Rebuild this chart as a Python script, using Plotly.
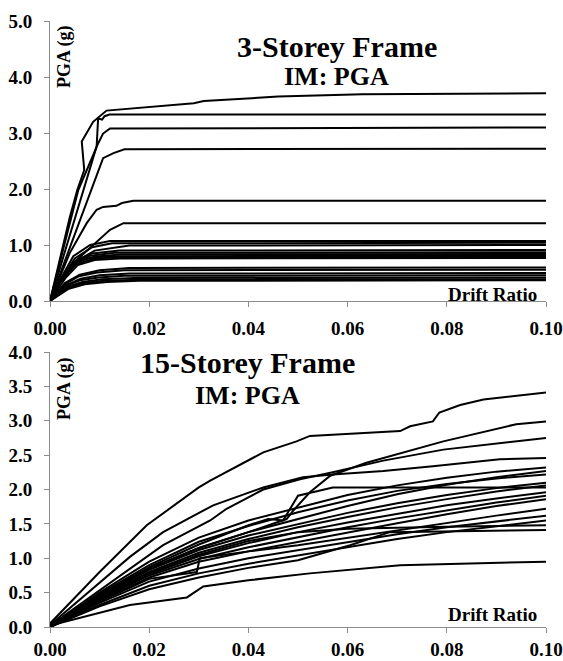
import plotly.graph_objects as go

# ---------------- 3-storey frame (top) ----------------
top_x = [
    [0, 0.004, 0.0055, 0.0069, 0.0064, 0.0087, 0.0114, 0.02, 0.029, 0.031, 0.046, 0.063, 0.1],
    [0, 0.0057, 0.0094, 0.0097, 0.0105, 0.011, 0.012, 0.1],
    [0, 0.0094, 0.0107, 0.0121, 0.1],
    [0, 0.0107, 0.0128, 0.015, 0.1],
    [0, 0.004, 0.0074, 0.0094, 0.0107, 0.0134, 0.0145, 0.0168, 0.1],
    [0, 0.004, 0.0081, 0.0121, 0.0148, 0.1],
    [0, 0.0025, 0.0047, 0.0081, 0.0121, 0.1],
    [0, 0.0028, 0.005, 0.0085, 0.0125, 0.1],
    [0, 0.003, 0.0055, 0.009, 0.016, 0.1],
    [0, 0.003, 0.0052, 0.0085, 0.014, 0.1],
    [0, 0.0027, 0.005, 0.0082, 0.013, 0.1],
    [0, 0.003, 0.0054, 0.009, 0.014, 0.1],
    [0, 0.0028, 0.0048, 0.008, 0.012, 0.1],
    [0, 0.003, 0.0053, 0.0088, 0.013, 0.1],
    [0, 0.0032, 0.0056, 0.009, 0.014, 0.1],
    [0, 0.003, 0.006, 0.01, 0.016, 0.1],
    [0, 0.003, 0.0058, 0.0095, 0.015, 0.1],
    [0, 0.0032, 0.0062, 0.01, 0.016, 0.1],
    [0, 0.003, 0.006, 0.0098, 0.015, 0.1],
    [0, 0.0035, 0.0065, 0.0105, 0.017, 0.1],
    [0, 0.0035, 0.0068, 0.011, 0.018, 0.1],
    [0, 0.0038, 0.007, 0.0115, 0.018, 0.1],
]
top_y = [
    [0, 1.5, 1.98, 2.34, 2.85, 3.2, 3.4, 3.47, 3.53, 3.57, 3.65, 3.69, 3.71],
    [0, 1.98, 2.75, 3.26, 3.24, 3.30, 3.33, 3.33],
    [0, 2.76, 2.99, 3.08, 3.10],
    [0, 2.55, 2.64, 2.71, 2.72],
    [0, 0.86, 1.39, 1.63, 1.68, 1.70, 1.75, 1.79, 1.79],
    [0, 0.62, 0.95, 1.27, 1.39, 1.39],
    [0, 0.45, 0.80, 1.00, 1.07, 1.07],
    [0, 0.46, 0.76, 0.96, 1.03, 1.04],
    [0, 0.44, 0.72, 0.90, 0.99, 1.00],
    [0, 0.48, 0.72, 0.85, 0.90, 0.91],
    [0, 0.46, 0.70, 0.81, 0.86, 0.87],
    [0, 0.47, 0.69, 0.79, 0.83, 0.84],
    [0, 0.45, 0.68, 0.77, 0.80, 0.81],
    [0, 0.44, 0.66, 0.75, 0.78, 0.79],
    [0, 0.42, 0.64, 0.73, 0.76, 0.77],
    [0, 0.32, 0.47, 0.55, 0.59, 0.60],
    [0, 0.30, 0.44, 0.51, 0.55, 0.56],
    [0, 0.28, 0.40, 0.46, 0.49, 0.50],
    [0, 0.26, 0.37, 0.42, 0.45, 0.46],
    [0, 0.25, 0.34, 0.39, 0.41, 0.42],
    [0, 0.23, 0.32, 0.36, 0.38, 0.39],
    [0, 0.22, 0.30, 0.34, 0.36, 0.37],
]

# ---------------- 15-storey frame (bottom) ----------------
grid = [0, 0.01, 0.02, 0.03, 0.04, 0.05, 0.06, 0.07, 0.08, 0.09, 0.1]
bot_x = [
    [0, 0.01, 0.0195, 0.03, 0.0323, 0.043, 0.0497, 0.0524, 0.0706, 0.0726, 0.0772, 0.0785, 0.0827, 0.0874, 0.1],
    [0, 0.01, 0.02, 0.03, 0.04, 0.0477, 0.049, 0.0524, 0.0565, 0.0638, 0.0793, 0.094, 0.1],
    [0, 0.0161, 0.0228, 0.0323, 0.0356, 0.043, 0.0504, 0.057, 0.0672, 0.0793, 0.1],
    [0, 0.0161, 0.0228, 0.0329, 0.043, 0.051, 0.057, 0.0672, 0.0772, 0.0907, 0.1],
    grid, grid, grid, grid, grid,
    [0, 0.01, 0.02, 0.03, 0.04, 0.044, 0.047, 0.05, 0.057, 0.1],
    grid, grid, grid,
    [0, 0.01, 0.02, 0.0296, 0.0302, 0.04, 0.05, 0.06, 0.07, 0.08, 0.09, 0.1],
    grid, grid, grid,
    [0, 0.01, 0.02, 0.03, 0.04, 0.05, 0.0605, 0.0685, 0.1],
    [0, 0.0161, 0.0276, 0.0309, 0.04, 0.0524, 0.0706, 0.1],
]
bot_y = [
    [0.05, 0.80, 1.48, 2.03, 2.13, 2.54, 2.70, 2.78, 2.85, 2.92, 2.99, 3.12, 3.23, 3.31, 3.41],
    [0, 0.45, 0.85, 1.15, 1.38, 1.57, 1.69, 1.96, 2.20, 2.39, 2.70, 2.95, 2.99],
    [0.02, 0.85, 1.19, 1.55, 1.72, 2.00, 2.15, 2.25, 2.42, 2.58, 2.75],
    [0.03, 1.02, 1.38, 1.77, 2.03, 2.18, 2.22, 2.27, 2.34, 2.44, 2.46],
    [0, 0.50, 0.95, 1.30, 1.55, 1.74, 1.92, 2.06, 2.17, 2.26, 2.32],
    [0, 0.48, 0.90, 1.24, 1.47, 1.67, 1.84, 1.98, 2.08, 2.16, 2.22],
    [0, 0.45, 0.85, 1.15, 1.38, 1.57, 1.76, 1.93, 2.07, 2.18, 2.27],
    [0, 0.44, 0.83, 1.12, 1.33, 1.50, 1.66, 1.80, 1.92, 2.02, 2.10],
    [0, 0.42, 0.80, 1.08, 1.28, 1.45, 1.60, 1.74, 1.86, 1.97, 2.06],
    [0, 0.46, 0.87, 1.20, 1.48, 1.57, 1.55, 1.91, 2.03, 2.03],
    [0, 0.41, 0.77, 1.03, 1.22, 1.38, 1.52, 1.65, 1.77, 1.87, 1.96],
    [0, 0.40, 0.75, 0.99, 1.16, 1.31, 1.45, 1.58, 1.70, 1.81, 1.91],
    [0, 0.38, 0.72, 0.95, 1.10, 1.24, 1.38, 1.51, 1.64, 1.76, 1.86],
    [0, 0.37, 0.70, 0.80, 1.00, 1.10, 1.19, 1.30, 1.41, 1.52, 1.62, 1.72],
    [0, 0.35, 0.66, 0.85, 1.00, 1.12, 1.24, 1.35, 1.45, 1.54, 1.62],
    [0, 0.32, 0.60, 0.78, 0.92, 1.04, 1.16, 1.28, 1.38, 1.47, 1.55],
    [0, 0.42, 0.78, 1.05, 1.25, 1.38, 1.43, 1.45, 1.46, 1.47, 1.48],
    [0, 0.30, 0.55, 0.72, 0.86, 0.97, 1.19, 1.38, 1.41],
    [0.02, 0.32, 0.43, 0.59, 0.68, 0.78, 0.90, 0.95],
]

x_ticks = [0, 0.02, 0.04, 0.06, 0.08, 0.10]
top_y_ticks = [0, 1, 2, 3, 4, 5]
bot_y_ticks = [0, 0.5, 1.0, 1.5, 2.0, 2.5, 3.0, 3.5, 4.0]

FONT = "'Liberation Serif', 'Times New Roman', Times, serif"
AX = "#8c8c8c"

fig = go.Figure()
for xs, ys in zip(top_x, top_y):
    fig.add_trace(go.Scatter(x=xs, y=ys, mode="lines", xaxis="x", yaxis="y",
                             line=dict(color="black", width=2), hoverinfo="skip"))
for xs, ys in zip(bot_x, bot_y):
    fig.add_trace(go.Scatter(x=xs, y=ys, mode="lines", xaxis="x2", yaxis="y2",
                             line=dict(color="black", width=2), hoverinfo="skip"))

W, H = 563, 661
L, R, T, B = 50, 17, 21, 34
PW, PH = W - L - R, H - T - B


def px(xp):  # page pixel -> paper x
    return (xp - L) / PW


def py(yp):  # page pixel -> paper y
    return (H - B - yp) / PH


tickfont = dict(family=FONT, size=19, color="black", weight="bold")
common = dict(showline=True, linecolor=AX, linewidth=1, ticks="outside", ticklen=5,
              tickcolor=AX, showgrid=False, zeroline=False, tickfont=tickfont,
              automargin=False)

fig.update_layout(
    template="none",
    width=W, height=H,
    margin=dict(l=L, r=R, t=T, b=B, autoexpand=False),
    paper_bgcolor="white", plot_bgcolor="white",
    showlegend=False,
    font=dict(family=FONT, color="black"),
    xaxis=dict(domain=[0, 1], anchor="y", range=[0, 0.1], tickvals=x_ticks,
               tickformat=".2f", ticklabelstandoff=5, **common),
    yaxis=dict(domain=[py(301), 1], anchor="x", range=[0, 5], tickvals=top_y_ticks,
               tickformat=".1f", ticklabelstandoff=8, **common),
    xaxis2=dict(domain=[0, 1], anchor="y2", range=[0, 0.1], tickvals=x_ticks,
                tickformat=".2f", ticklabelstandoff=0, **common),
    yaxis2=dict(domain=[0, py(352)], anchor="x2", range=[0, 4], tickvals=bot_y_ticks,
                tickformat=".1f", ticklabelstandoff=8, **common),
)


def label(text, xp, yp, size, angle=0):
    fig.add_annotation(text=text, x=px(xp), y=py(yp), xref="paper", yref="paper",
                       showarrow=False, textangle=angle, xanchor="center", yanchor="middle",
                       font=dict(family=FONT, size=size, color="black", weight="bold"))


label("3-Storey Frame", 337, 47, 30)
label("IM: PGA", 336, 76, 26)
label("15-Storey Frame", 247, 362, 30)
label("IM: PGA", 247, 395, 26)
label("PGA (g)", 64, 57, 18, -90)
label("Drift Ratio", 492, 294, 19)
label("PGA (g)", 64, 389, 18, -90)
label("Drift Ratio", 492, 614, 19)

# the page body would otherwise keep the browser's default 8px margin
fig.write_html("out.html", config={"displayModeBar": False},
               post_script="document.body.style.margin='0';")
